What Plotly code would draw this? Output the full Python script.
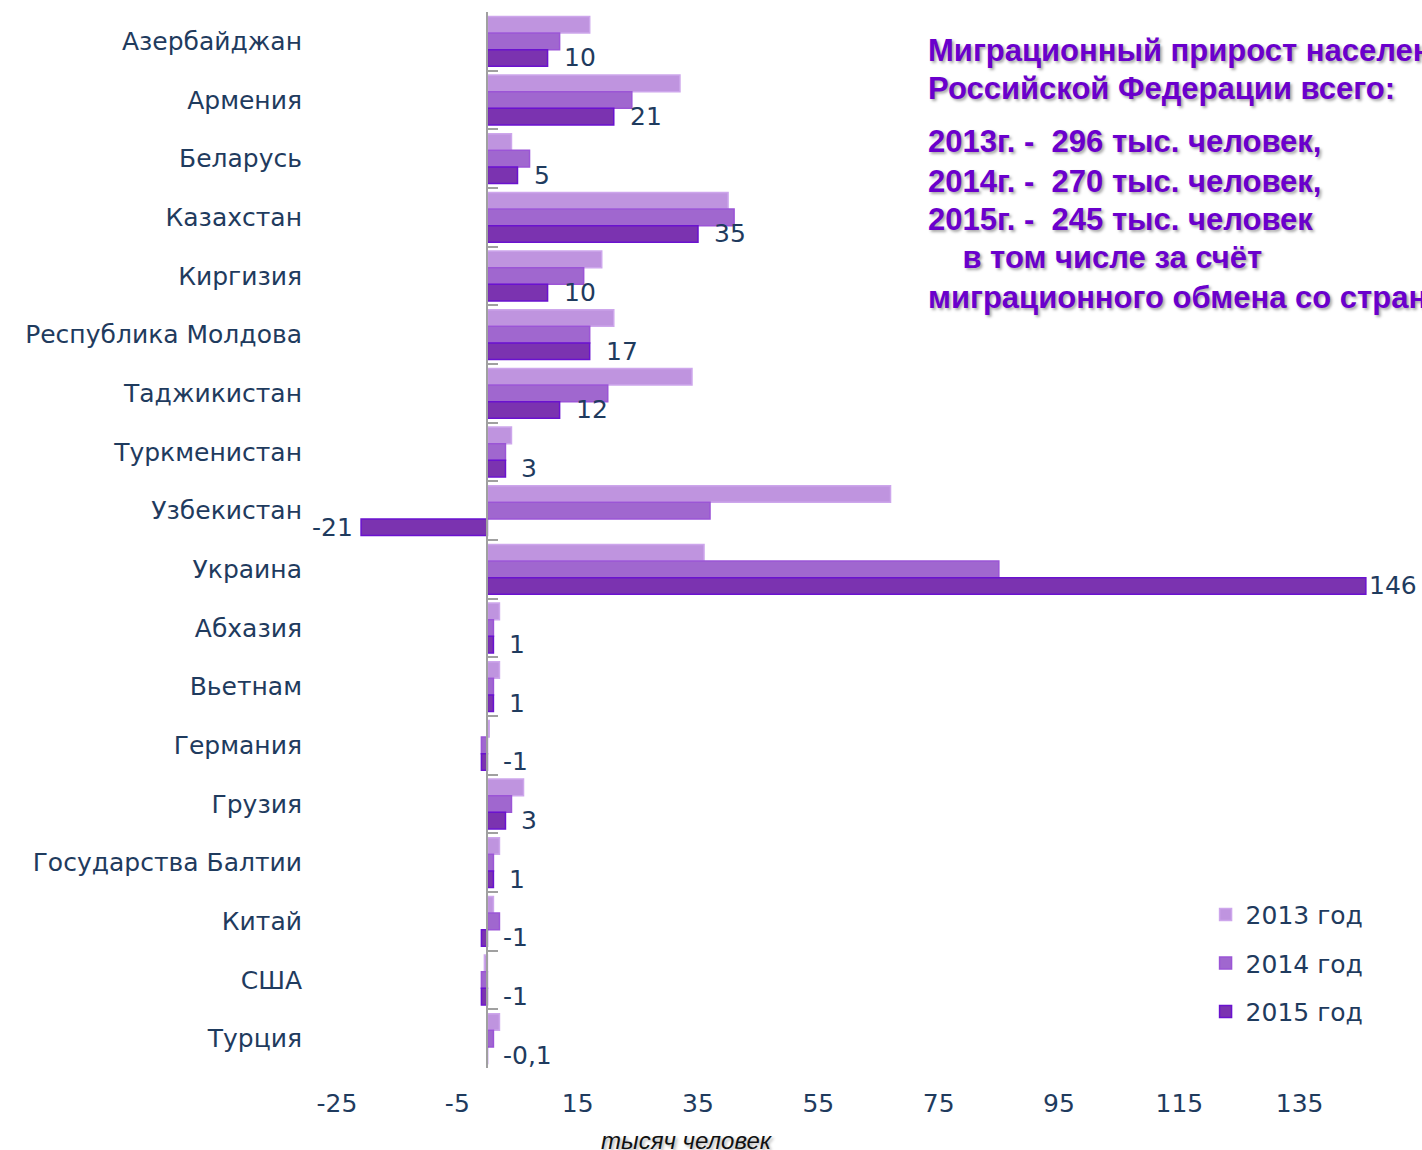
import plotly.graph_objects as go

countries = ["Азербайджан", "Армения", "Беларусь", "Казахстан", "Киргизия",
             "Республика Молдова", "Таджикистан", "Туркменистан", "Узбекистан",
             "Украина", "Абхазия", "Вьетнам", "Германия", "Грузия",
             "Государства Балтии", "Китай", "США", "Турция"]
v2013 = [17, 32, 4, 40, 19, 21, 34, 4, 67, 36, 2, 2, 0.3, 6, 2, 1, -0.5, 2]
v2014 = [12, 24, 7, 41, 16, 17, 20, 3, 37, 85, 1, 1, -1, 4, 1, 2, -1, 1]
v2015 = [10, 21, 5, 35, 10, 17, 12, 3, -21, 146, 1, 1, -1, 3, 1, -1, -1, -0.1]
series_names = ["2013 год", "2014 год", "2015 год"]
x_ticks = [-25, -5, 15, 35, 55, 75, 95, 115, 135]
x_range = [-25, 155]

title_lines = ["Миграционный прирост населения",
               "Российской Федерации всего:",
               "2013г. -  296 тыс. человек,",
               "2014г. -  270 тыс. человек,",
               "2015г. -  245 тыс. человек",
               "\u00a0\u00a0\u00a0\u00a0в том числе за счёт",
               "миграционного обмена со странами:"]

fills = ["#BF94DF", "#A067CF", "#7B33B0"]
lines = ["#CDA6EC", "#9B55D6", "#6A12CF"]
FONT = "'DejaVu Sans', Verdana, sans-serif"
TFONT = "Arial, 'Liberation Sans', sans-serif"
TXT = "#1F3B5E"
BARGAP = 0.15

PLOT_TOP, PLOT_H = 12, 1056

fig = go.Figure()
for i, (name, vals) in enumerate(zip(series_names, [v2013, v2014, v2015])):
    fig.add_trace(go.Bar(
        y=countries, x=vals, name=name, orientation="h",
        marker=dict(color=fills[i], line=dict(color=lines[i], width=1.5)),
        legendgroup=name, hoverinfo="skip",
    ))

# invisible helper on yaxis2 (axis line at zero with boundary ticks)
n = len(countries)
fig.add_trace(go.Scatter(x=[0] * n, y=list(range(n)), yaxis="y2", mode="markers",
                         marker=dict(opacity=0), showlegend=False, hoverinfo="skip"))

# value labels for 2015
offset = (1 - BARGAP) / 3
vmax = max(v2015)
for i, v in enumerate(v2015):
    label = f"{v:g}".replace(".", ",")
    if v < -5:
        ann = dict(x=v, xanchor="right", xshift=-6)
    elif v == vmax:
        ann = dict(x=v, xanchor="left", xshift=1)
    else:
        ann = dict(x=max(v, 0), xanchor="left", xshift=14)
    fig.add_annotation(y=i + offset, yref="y2", xref="x", text=label, showarrow=False,
                       yanchor="middle", font=dict(size=25, color=TXT, family=FONT), **ann)

# title block on the right (one annotation per line)
shadow = "2px 2px 3px rgba(0,0,0,0.35)"
purple = "#6A00CC"
line_y = [50, 89, 142, 181, 219, 258, 297]
for txt, py in zip(title_lines, line_y):
    fig.add_annotation(xref="paper", yref="paper", x=(926 - 337) / 1083,
                       y=1.0 - (py - PLOT_TOP) / PLOT_H,
                       xanchor="left", yanchor="middle", align="left", showarrow=False,
                       text=txt,
                       font=dict(size=31, color=purple, family=TFONT, weight="bold",
                                 shadow=shadow))

fig.add_annotation(xref="paper", yref="paper", x=(687 - 337) / 1083,
                   y=1.0 - (1140 - PLOT_TOP) / PLOT_H,
                   xanchor="center", yanchor="middle", showarrow=False,
                   text="<i>тысяч человек</i>",
                   font=dict(size=24, color="#111111", family=TFONT,
                             shadow="2px 2px 3px rgba(0,0,0,0.3)"))

fig.update_layout(
    width=1422, height=1150,
    margin=dict(l=337, r=2, t=PLOT_TOP, b=1150 - PLOT_TOP - PLOT_H),
    paper_bgcolor="white", plot_bgcolor="white",
    barmode="group", bargap=BARGAP, bargroupgap=0,
    font=dict(family=FONT, color=TXT),
    xaxis=dict(range=x_range, tickvals=x_ticks, ticktext=[str(t) for t in x_ticks],
               showgrid=False, zeroline=False,
               showline=False, ticks="", tickfont=dict(size=25, color=TXT),
               ticklabelstandoff=18),
    yaxis=dict(autorange="reversed", showgrid=False, showline=False, ticks="",
               tickfont=dict(size=25, color=TXT), ticklabelstandoff=34),
    yaxis2=dict(overlaying="y", anchor="free", side="left",
                position=(0 - x_range[0]) / (x_range[1] - x_range[0]),
                range=[n - 0.5, -0.5], tickvals=[k - 0.5 for k in range(n + 1)],
                showticklabels=False, ticks="inside", ticklen=10, tickwidth=2,
                tickcolor="#A0A0A0", showline=True, linecolor="#A0A0A0", linewidth=2,
                showgrid=False, zeroline=False),
    legend=dict(x=0.802, y=0.167, xanchor="left", yanchor="top",
                font=dict(size=25, color=TXT), tracegroupgap=13,
                bgcolor="rgba(0,0,0,0)"),
    showlegend=True,
)

fig.write_html("out.html", config={"displayModeBar": False},
               post_script="document.body.style.margin='0';")
